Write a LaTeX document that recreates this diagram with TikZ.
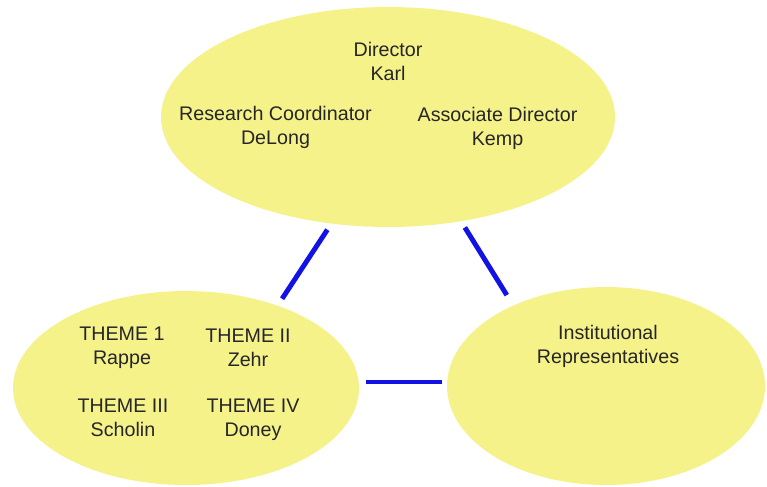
\documentclass[tikz,border=0pt]{standalone}
\usepackage{fontspec}
\setmainfont{Liberation Sans}
\usetikzlibrary{shapes.geometric}
\definecolor{blobyellow}{RGB}{246,242,138}
\definecolor{linkblue}{RGB}{18,18,228}

\begin{document}
\begin{tikzpicture}[
  blob/.style={ellipse,fill=blobyellow,inner sep=0pt},
  lbl/.style={align=center,text=black!85,font=\fontsize{11.2}{13.6}\selectfont},
  link/.style={draw=linkblue,line width=2.8pt}
]
  \useasboundingbox (0,0) rectangle (15.34,-9.72);
  \node[blob,minimum width=9.08cm,minimum height=4.40cm] (board)  at (7.76,-2.34) {};
  \node[blob,minimum width=6.92cm,minimum height=3.88cm] (themes) at (3.72,-7.76) {};
  \node[blob,minimum width=6.36cm,minimum height=3.96cm] (inst)   at (12.12,-7.72) {};

  \node[lbl] (dir)   at (7.76,-1.23) {Director\\Karl};
  \node[lbl] (coord) at (5.51,-2.54) {Research Coordinator\\DeLong};
  \node[lbl] (assoc) at (9.95,-2.56) {Associate Director\\Kemp};
  \node[lbl] (th1)   at (2.44,-6.96) {THEME 1\\Rappe};
  \node[lbl] (th2)   at (4.96,-6.95) {THEME II\\Zehr};
  \node[lbl] (th3)   at (2.46,-8.36) {THEME III\\Scholin};
  \node[lbl] (th4)   at (5.06,-8.40) {THEME IV\\Doney};
  \node[lbl] (reps)  at (12.16,-6.92) {Institutional\\Representatives};

  \draw[link,shorten <=0.14cm,shorten >=0.16cm] (board.-118) -- (themes.42);
  \draw[link,shorten <=0.14cm,shorten >=0.24cm] (board.-55) -- (inst.139);
  \draw[link,shorten <=0.14cm,shorten >=0.1cm]  (themes.2) -- (themes.2 -| inst.west);
\end{tikzpicture}
\end{document}
